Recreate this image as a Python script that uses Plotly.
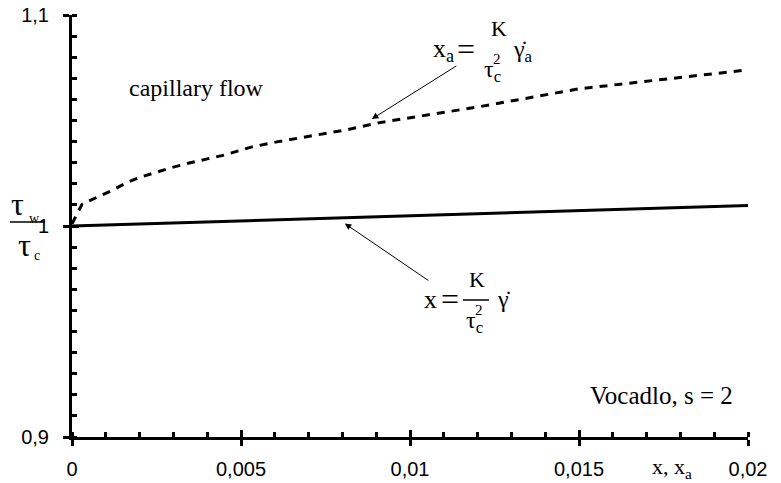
import plotly.graph_objects as go

# ---- data ----
x_solid = [0, 0.005, 0.01, 0.015, 0.02]
y_solid = [1.0, 1.0025, 1.005, 1.0074, 1.0097]

x_dash = [0, 0.0001, 0.0003, 0.00075, 0.0012, 0.0016, 0.002, 0.0029, 0.0035, 0.0045,
          0.0053, 0.0061, 0.0071, 0.0081, 0.0091, 0.012, 0.015, 0.018, 0.02]
y_dash = [1.001, 1.004, 1.0104, 1.0137, 1.017, 1.0204, 1.023, 1.0275, 1.030, 1.0336,
          1.0374, 1.040, 1.0427, 1.0455, 1.049, 1.0564, 1.065, 1.0706, 1.074]

x_tickvals = [0, 0.005, 0.01, 0.015, 0.02]
x_ticktext = ["0", "0,005", "0,01", "0,015", "0,02"]
y_tickvals = [0.9, 1.0, 1.1]
y_ticktext = ["0,9", "1", "1,1"]

# ---- layout geometry (pixels) ----
W, H = 781, 483
L, R, T, B = 72, 33, 15, 46
PW, PH = W - L - R, H - T - B


def px(x):
    return (x - L) / PW


def py(y):
    return (H - B - y) / PH


SERIF = "Liberation Serif"
SANS = "Liberation Sans"

fig = go.Figure()
fig.add_trace(go.Scatter(x=x_solid, y=y_solid, mode="lines",
                         line=dict(color="black", width=3), showlegend=False))
fig.add_trace(go.Scatter(x=x_dash, y=y_dash, mode="lines",
                         line=dict(color="black", width=3, dash="8px,7px"), showlegend=False))

axis_common = dict(showgrid=False, zeroline=False, showline=True, linecolor="black",
                   linewidth=3, tickcolor="black", tickwidth=3, ticks="outside", ticklen=6,
                   automargin=False,
                   tickfont=dict(family=SANS, size=20, color="black"))

fig.update_layout(
    width=W, height=H,
    margin=dict(l=L, r=R, t=T, b=B, autoexpand=False),
    paper_bgcolor="white", plot_bgcolor="white",
    xaxis=dict(range=[0, 0.02], tickmode="array", tickvals=x_tickvals, ticktext=x_ticktext,
               minor=dict(dtick=0.001, ticks="inside", ticklen=5, tickwidth=3, tickcolor="black"),
               ticklabelstandoff=6, **axis_common),
    yaxis=dict(range=[0.9, 1.1], tickmode="array", tickvals=y_tickvals, ticktext=y_ticktext,
               minor=dict(dtick=0.01, ticks="inside", ticklen=5, tickwidth=3, tickcolor="black"),
               ticklabelstandoff=10, **axis_common),
    xaxis2=dict(range=[0, 0.02], overlaying="x", side="bottom", showgrid=False, zeroline=False,
                showline=False, ticks="inside", ticklen=7, tickwidth=3, tickcolor="black",
                tickvals=x_tickvals, showticklabels=False, automargin=False),
    yaxis2=dict(range=[0.9, 1.1], overlaying="y", side="left", showgrid=False, zeroline=False,
                showline=False, ticks="inside", ticklen=7, tickwidth=3, tickcolor="black",
                tickvals=y_tickvals, showticklabels=False, automargin=False),
)
# invisible trace to activate the secondary (tick-only) axes
fig.add_trace(go.Scatter(x=[None], y=[None], xaxis="x2", yaxis="y2", showlegend=False,
                         hoverinfo="skip"))

ann = []


def txt(t, x, y, size, xanchor="center", family=SERIF):
    ann.append(dict(text=t, x=px(x), y=py(y), xref="paper", yref="paper", showarrow=False,
                    xanchor=xanchor, yanchor="middle",
                    font=dict(family=family, size=size, color="black")))


# plain labels
txt("capillary flow", 127, 88, 24, xanchor="left")
txt("Vocadlo, s = 2", 588, 395, 25, xanchor="left")
txt("x, x<sub>a</sub>", 650, 468, 22, xanchor="left")

# equation 1: x_a = K / tau_c^2 gamma_dot_a
txt("x<sub>a</sub>", 431, 50, 26, xanchor="left")
txt("=", 466, 49, 32)
txt("K", 499, 28, 22)
txt("τ<sub>c</sub>", 482, 71, 24, xanchor="left")
txt("2", 497, 59, 15)
txt("γ̇<sub>a</sub>", 511, 51, 24, xanchor="left")

# equation 2: x = K / tau_c^2 gamma_dot
txt("x", 422, 300, 26, xanchor="left")
txt("=", 450, 299, 32)
txt("K", 477, 279, 22)
txt("τ<sub>c</sub>", 464, 322, 24, xanchor="left")
txt("2", 479, 310, 15)
txt("γ̇", 495, 299, 24, xanchor="left")

# y-axis label tau_w / tau_c
txt("τ", 17, 204, 32)
txt("w", 34, 218, 14)
txt("τ", 24, 245, 32)
txt("c", 37, 256, 14)

# arrows
ann.append(dict(x=0.00887, y=1.0507, xref="x", yref="y", ax=86, ay=-54, text="",
                showarrow=True, arrowhead=2, arrowsize=1.3, arrowwidth=1, arrowcolor="black"))
ann.append(dict(x=0.00807, y=1.0012, xref="x", yref="y", ax=85, ay=58, text="",
                showarrow=True, arrowhead=2, arrowsize=1.3, arrowwidth=1, arrowcolor="black"))

fig.update_layout(annotations=ann)

# fraction bars
shapes = [
    dict(type="line", xref="paper", yref="paper", x0=px(463), x1=px(489), y0=py(300), y1=py(300),
         line=dict(color="black", width=1.5)),
    dict(type="line", xref="paper", yref="paper", x0=px(10), x1=px(45), y0=py(222), y1=py(222),
         line=dict(color="black", width=1.5)),
]
fig.update_layout(shapes=shapes)

fig.write_html("out.html")
